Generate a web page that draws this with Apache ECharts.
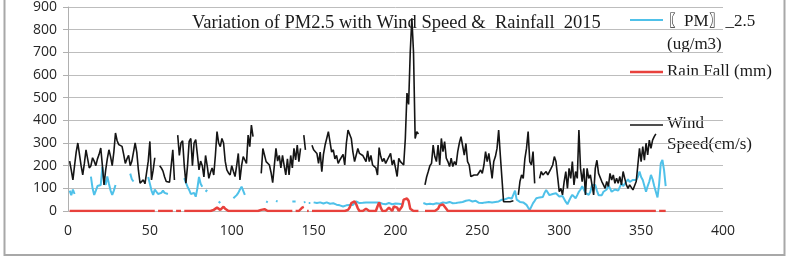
<!DOCTYPE html>
<html>
<head>
<meta charset="utf-8">
<script src="https://cdn.jsdelivr.net/npm/echarts/dist/echarts.min.js"></script>
<style>
html,body{margin:0;padding:0;background:#fff;}
#chart{width:792px;height:260px;}
</style>
</head>
<body>
<div id="chart"></div>
<script>
// x-axis ticks
var xTicks = [0, 50, 100, 150, 200, 250, 300, 350, 400];
var yTicks = [0, 100, 200, 300, 400, 500, 600, 700, 800, 900];
var titleText = 'Variation of PM2.5 with Wind Speed &  Rainfall  2015';
var seriesNames = ['\u3016PM\u3017_2.5 (ug/m3)', 'Rain Fall (mm)', 'Wind Speed(cm/s)'];

// daily values, day 1 .. day 365
var pm25 = [
90,70,95,75,null,null,null,null,null,null,
null,null,null,152,100,71,90,110,105,115,
195,140,115,152,120,90,71,90,115,null,
null,null,null,null,null,null,null,165,140,130,
null,null,null,160,null,null,null,null,150,120,
90,71,95,100,75,71,80,90,80,85,
75,null,null,null,null,null,null,null,null,null,
145,125,107,93,75,70,80,63,100,150,
120,107,null,85,93,null,null,null,null,null,
null,42,35,null,25,null,null,null,null,null,
56,55,70,80,95,107,100,71,null,null,
34,null,null,null,null,null,null,null,null,null,
42,38,null,null,null,null,45,42,null,null,
null,null,null,null,null,null,42,40,42,null,
40,null,null,38,40,null,35,35,null,38,
36,35,40,38,35,33,36,38,35,32,
30,34,32,28,30,25,22,20,22,25,
27,26,28,27,30,42,38,35,34,36,
35,38,36,38,40,38,40,38,36,38,
35,32,34,30,33,35,32,30,31,33,
30,32,28,30,null,null,null,null,null,null,
null,null,null,null,null,null,35,40,30,28,
32,35,30,38,34,36,32,35,38,33,
35,38,40,36,34,38,35,40,38,36,
40,42,45,40,48,50,42,38,45,40,
36,40,35,30,38,42,40,35,38,45,
40,35,42,45,50,55,52,55,58,55,
55,60,90,50,42,40,42,38,30,27,
15,5,8,35,45,56,55,60,58,62,
80,93,90,70,65,75,80,78,70,64,
63,66,60,40,30,45,60,71,63,56,
70,85,95,109,95,80,75,71,85,115,
110,115,90,70,75,70,85,80,95,115,
100,85,90,95,100,90,95,122,110,120,
130,140,128,135,137,130,137,150,174,150,
137,140,85,110,130,159,140,110,85,60,
120,210,225,180,110
];

var rainFall = [
0,0,0,0,0,0,0,0,0,0,
0,0,0,0,0,0,0,0,0,0,
0,0,0,0,0,0,0,0,0,0,
0,0,0,0,0,0,0,0,0,0,
0,0,0,0,0,0,0,0,0,0,
0,0,0,null,0,0,0,0,0,0,
0,0,0,0,null,0,0,0,0,null,
0,0,0,0,0,0,0,0,0,0,
0,0,0,0,0,0,0,3,5,10,
15,12,5,12,19,10,3,0,0,0,
0,0,0,0,0,0,0,0,0,0,
0,0,0,0,0,0,0,5,10,8,
5,0,0,0,0,0,0,0,0,0,
0,0,0,0,0,0,0,null,0,0,
0,0,15,18,null,0,0,null,0,0,
0,0,0,0,0,0,0,0,0,0,
0,0,0,0,0,0,0,0,0,0,
5,15,35,42,42,30,12,0,0,0,
5,10,5,0,0,0,0,0,20,38,
15,0,0,0,8,15,10,0,20,27,
15,0,0,20,50,55,55,45,10,5,
0,5,0,0,null,null,null,0,0,0,
0,0,0,0,0,10,25,29,29,25,
10,0,0,0,0,0,0,0,0,0,
0,0,0,0,0,0,0,0,0,0,
0,0,0,0,0,0,0,0,0,0,
0,0,0,0,0,0,0,0,0,0,
0,0,0,0,0,0,0,0,0,0,
0,0,0,0,0,0,0,0,0,0,
0,0,0,0,0,0,0,0,0,0,
0,0,0,0,0,0,0,0,0,0,
0,0,0,0,0,0,0,0,0,0,
0,0,0,0,0,0,0,0,0,0,
0,0,0,0,0,0,0,0,0,0,
0,0,0,0,0,0,0,0,0,0,
0,0,0,0,0,0,0,0,0,null,
0,0,0,0,0
];

var windSpeed = [
220,180,137,200,260,300,250,200,159,210,
270,230,190,200,235,220,200,230,250,278,
200,115,180,230,270,240,200,260,344,310,
293,290,285,250,210,230,245,200,220,260,
300,260,180,123,130,137,120,115,220,307,
137,180,235,null,null,200,190,176,150,130,
128,127,130,270,137,null,335,245,300,310,
200,123,200,307,320,200,300,315,250,181,
220,200,150,245,200,144,170,190,159,245,
350,300,284,320,300,220,181,168,159,200,
175,152,200,254,137,200,240,225,210,335,
284,379,328,null,null,null,null,166,276,270,
218,225,203,170,125,200,276,220,245,190,
245,200,159,230,159,245,190,276,225,291,
218,276,null,335,270,null,270,null,290,270,
265,254,210,260,174,250,291,320,350,357,
260,270,230,245,210,225,218,250,203,300,
357,365,320,260,218,218,276,254,260,245,
245,218,265,218,245,203,203,190,159,280,
240,218,232,210,225,218,254,203,225,190,
152,232,218,210,203,320,520,470,700,850,
700,320,350,340,null,null,null,115,150,174,
200,210,291,240,218,291,203,320,262,306,
233,218,196,233,196,218,203,262,300,328,
320,247,298,218,203,152,159,159,166,159,
166,181,166,203,262,218,254,200,144,218,
240,276,357,247,144,41,41,41,41,41,
41,45,null,null,71,130,159,144,230,276,
350,218,203,262,122,null,null,144,174,159,
166,174,159,174,188,203,240,218,152,85,
100,71,130,174,100,188,144,218,115,174,
144,357,188,130,188,71,188,144,159,115,
71,188,224,166,174,130,115,100,130,108,
166,137,159,122,144,122,152,115,174,144,
115,100,115,108,93,100,130,203,276,218,
284,224,299,247,313,276,313,328,340,null,
null,null,null,null,null
];

function toPairs(arr) {
  return arr.map(function (v, i) { return [i + 1, v]; });
}

var colPM = '#4fc1e9';
var colRain = '#e8413c';
var colWind = '#151515';
var serif = '"Liberation Serif", "Times New Roman", serif';

var chart = echarts.init(document.getElementById('chart'), null, {renderer: 'canvas'});
chart.setOption({
  animation: false,
  backgroundColor: '#ffffff',
  title: {
    text: titleText,
    left: 192,
    top: 14,
    padding: 0,
    textStyle: {fontFamily: serif, fontSize: 18.5, fontWeight: 'normal', color: '#1a1a1a'}
  },
  grid: {left: 68, right: 69, top: 7, bottom: 49, containLabel: false},
  xAxis: {
    type: 'value',
    min: xTicks[0],
    max: xTicks[xTicks.length - 1],
    interval: 50,
    axisLine: {show: false},
    axisTick: {show: false},
    splitLine: {show: false},
    axisLabel: {
      margin: 13,
      fontFamily: '"Open Sans", sans-serif',
      fontSize: 14,
      color: '#262626',
      formatter: function (v) { return xTicks.indexOf(v) >= 0 ? String(v) : ''; }
    }
  },
  yAxis: {
    type: 'value',
    min: yTicks[0],
    max: yTicks[yTicks.length - 1],
    interval: 100,
    axisLine: {show: true, lineStyle: {color: '#b0b0b0', width: 1}},
    axisTick: {show: true, length: 5, lineStyle: {color: '#b0b0b0'}},
    splitLine: {show: true, lineStyle: {color: '#bdbdbd', width: 1}},
    axisLabel: {
      margin: 11,
      fontFamily: '"Open Sans", sans-serif',
      fontSize: 14,
      color: '#262626',
      formatter: function (v) { return yTicks.indexOf(v) >= 0 ? String(v) : ''; }
    }
  },
  series: [
    {
      name: seriesNames[0], type: 'line', data: toPairs(pm25),
      showSymbol: false, connectNulls: false,
      lineStyle: {color: colPM, width: 2}, itemStyle: {color: colPM}, z: 2
    },
    {
      name: seriesNames[1], type: 'line', data: toPairs(rainFall),
      showSymbol: false, connectNulls: false,
      lineStyle: {color: colRain, width: 2.5}, itemStyle: {color: colRain}, z: 3
    },
    {
      name: seriesNames[2], type: 'line', data: toPairs(windSpeed),
      showSymbol: false, connectNulls: false,
      lineStyle: {color: colWind, width: 1.6}, itemStyle: {color: colWind}, z: 4
    }
  ],
  graphic: [
    {type: 'rect', shape: {x: 4.5, y: -3, width: 780, height: 258},
     style: {fill: 'none', stroke: '#a8a8a8', lineWidth: 2}, z: 0, silent: true},
    {type: 'line', shape: {x1: 630, y1: 20, x2: 663, y2: 20}, style: {stroke: colPM, lineWidth: 2}},
    {type: 'text', left: 667, top: 13, style: {text: '\u3016PM\u3017_2.5', font: '17px ' + serif, fill: '#1a1a1a'}},
    {type: 'text', left: 667, top: 36, style: {text: '(ug/m3)', font: '17px ' + serif, fill: '#1a1a1a'}},
    {type: 'line', shape: {x1: 630, y1: 72, x2: 663, y2: 72}, style: {stroke: colRain, lineWidth: 2.5}},
    {type: 'text', left: 667, top: 63, style: {text: 'Rain Fall (mm)', font: '17px ' + serif, fill: '#1a1a1a'}},
    {type: 'line', shape: {x1: 630, y1: 125, x2: 663, y2: 125}, style: {stroke: colWind, lineWidth: 1.6}},
    {type: 'text', left: 667, top: 115, style: {text: 'Wind', font: '17px ' + serif, fill: '#1a1a1a'}},
    {type: 'text', left: 667, top: 136, style: {text: 'Speed(cm/s)', font: '17px ' + serif, fill: '#1a1a1a'}}
  ]
});
</script>
</body>
</html>
